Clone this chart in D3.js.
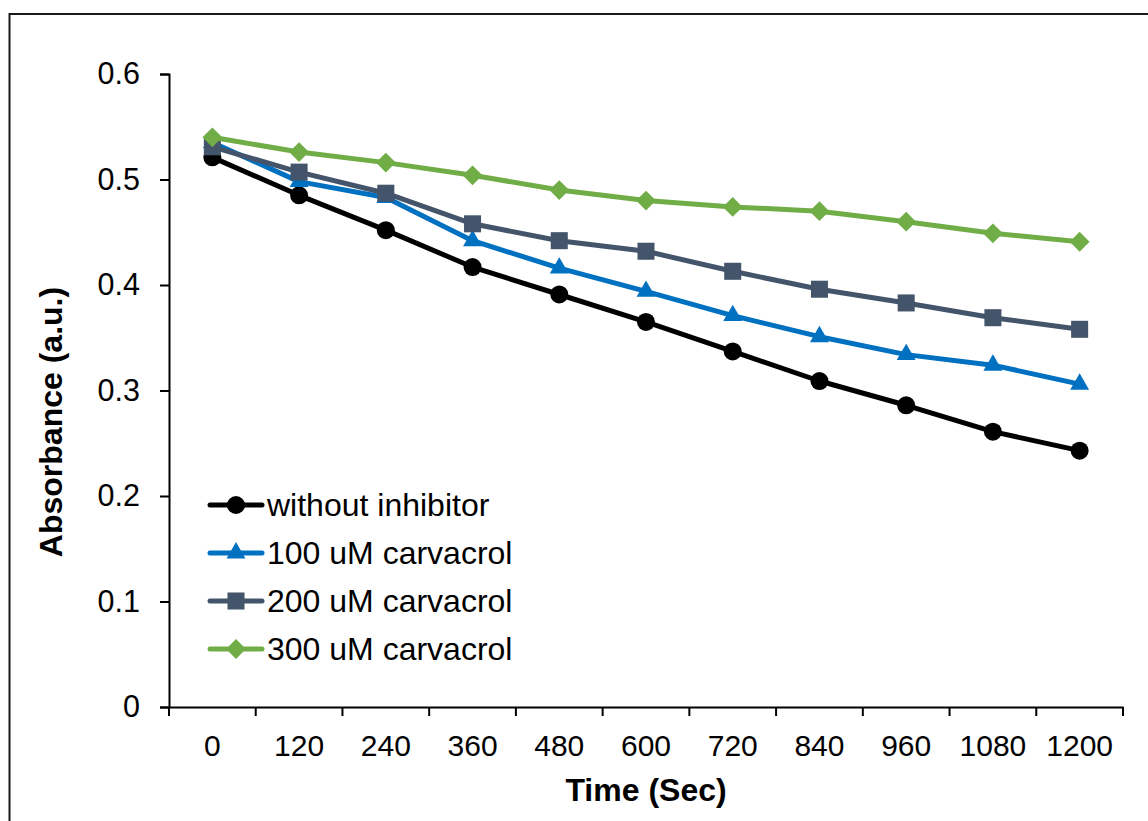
<!DOCTYPE html>
<html>
<head>
<meta charset="utf-8">
<script src="https://cdn.jsdelivr.net/npm/d3@7"></script>
<style>
  html, body { margin: 0; padding: 0; background: #fff; }
  svg { display: block; font-family: "Liberation Sans", Arial, sans-serif; }
</style>
</head>
<body>
<svg id="chart" width="1148" height="821"></svg>
<script>
const categories = ["0","120","240","360","480","600","720","840","960","1080","1200"];
const yTicks = [0, 0.1, 0.2, 0.3, 0.4, 0.5, 0.6];
const seriesNames = ["without inhibitor","100 uM carvacrol","200 uM carvacrol","300 uM carvacrol"];
const withoutInhibitor = [0.521,0.485,0.452,0.417,0.391,0.365,0.337,0.309,0.286,0.261,0.243];
const carvacrol100 = [0.535,0.498,0.483,0.442,0.416,0.394,0.371,0.351,0.334,0.324,0.306];
const carvacrol200 = [0.531,0.507,0.487,0.458,0.442,0.432,0.413,0.396,0.383,0.369,0.358];
const carvacrol300 = [0.540,0.526,0.516,0.504,0.490,0.480,0.474,0.470,0.460,0.449,0.441];
const seriesColors = ["#000000","#0070C0","#44546A","#70AD47"];
const seriesSymbols = [d3.symbolCircle, d3.symbolTriangle, d3.symbolSquare, d3.symbolDiamond2 || d3.symbolDiamond];
const symbolSizes = [255, 155, 290, 250];

const series = seriesNames.map((name, i) => ({
  name, color: seriesColors[i], symbol: seriesSymbols[i], size: symbolSizes[i],
  values: [withoutInhibitor, carvacrol100, carvacrol200, carvacrol300][i]
}));

const svg = d3.select("#chart");
const mLeft = 169, mRight = 1123, mTop = 74, mBottom = 707;

// outer border
svg.append("rect").attr("x", 9.5).attr("y", 14).attr("width", 1160).attr("height", 900)
  .attr("fill", "none").attr("stroke", "#1a1a1a").attr("stroke-width", 2);

const x = d3.scaleBand().domain(categories).range([mLeft, mRight]).padding(0);
const y = d3.scaleLinear().domain([0, 0.6]).range([mBottom, mTop]);

// Y axis
const yAxis = svg.append("g").attr("transform", `translate(${mLeft},0)`)
  .call(d3.axisLeft(y).tickValues(yTicks).tickFormat(d => d === 0 ? "0" : d3.format(".1f")(d)).tickSize(9).tickPadding(20).tickSizeOuter(9));
yAxis.select(".domain").attr("stroke", "#000").attr("stroke-width", 2);
yAxis.selectAll(".tick line").attr("stroke", "#000").attr("stroke-width", 2);
yAxis.selectAll(".tick text").attr("font-size", 30.5).attr("fill", "#000")
  .attr("font-family", "Liberation Sans, Arial, sans-serif");

// X axis
const xAxis = svg.append("g").attr("transform", `translate(0,${mBottom})`)
  .call(d3.axisBottom(x).tickSize(0).tickPadding(28));
xAxis.select(".domain").attr("stroke", "#000").attr("stroke-width", 2);
xAxis.selectAll(".tick text").attr("font-size", 30).attr("fill", "#000")
  .attr("font-family", "Liberation Sans, Arial, sans-serif");
// category boundary ticks
const bounds = categories.map(c => x(c)).concat([x(categories[categories.length-1]) + x.bandwidth()]);
xAxis.selectAll(".bt").data(bounds).enter().append("line")
  .attr("x1", d => d).attr("x2", d => d).attr("y1", 0).attr("y2", 9)
  .attr("stroke", "#000").attr("stroke-width", 2);

// Titles
svg.append("text").attr("x", (mLeft + mRight) / 2).attr("y", 801)
  .attr("text-anchor", "middle").attr("font-size", 32).attr("font-weight", "bold")
  .text("Time (Sec)");
svg.append("text").attr("transform", "translate(62,422) rotate(-90)")
  .attr("text-anchor", "middle").attr("font-size", 32).attr("font-weight", "bold")
  .text("Absorbance (a.u.)");

// Lines & markers
const cx = i => x(categories[i]) + x.bandwidth() / 2;
const line = d3.line().x((d, i) => cx(i)).y(d => y(d));
series.forEach(s => {
  svg.append("path").datum(s.values).attr("d", line)
    .attr("fill", "none").attr("stroke", s.color).attr("stroke-width", 5)
    .attr("stroke-linejoin", "round");
  svg.selectAll(null).data(s.values).enter().append("path")
    .attr("d", d3.symbol().type(s.symbol).size(s.size))
    .attr("transform", (d, i) => `translate(${cx(i)},${y(d)})`)
    .attr("fill", s.color);
});

// Legend
const legY = [505, 553, 601, 649];
series.forEach((s, i) => {
  const g = svg.append("g").attr("transform", `translate(0,${legY[i]})`);
  g.append("line").attr("x1", 210).attr("x2", 262).attr("y1", 0).attr("y2", 0)
    .attr("stroke", s.color).attr("stroke-width", 5).attr("stroke-linecap", "round");
  g.append("path").attr("d", d3.symbol().type(s.symbol).size(s.size))
    .attr("transform", "translate(236,0)").attr("fill", s.color);
  g.append("text").attr("x", 267).attr("y", 0).attr("dy", "0.35em")
    .attr("font-size", 32).attr("fill", "#000").text(s.name);
});
</script>
</body>
</html>
